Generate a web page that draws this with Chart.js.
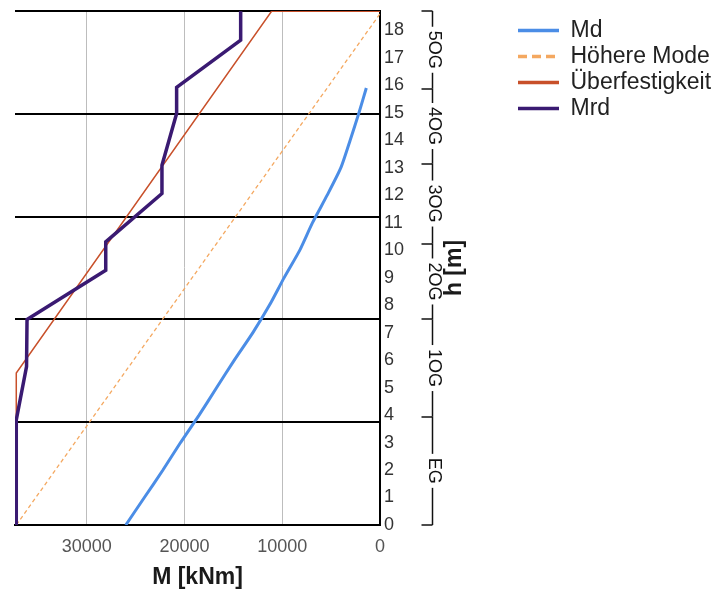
<!DOCTYPE html>
<html><head><meta charset="utf-8">
<script src="https://cdn.jsdelivr.net/npm/chart.js@4/dist/chart.umd.min.js"></script>
<style>html,body{margin:0;padding:0;background:#fff}#wrap{width:715px;height:595px;position:relative}</style>
</head><body><div id="wrap"><canvas id="c"></canvas></div>
<script>
// ---- data ----
const seriesNames = ['Md', 'Höhere Mode', 'Überfestigkeit', 'Mrd'];
const mdHeights   = [0, 1, 2, 3, 4, 5, 6, 7, 8, 9, 10, 11, 12, 13, 14, 15, 15.9];
const mdMoments   = [26000, 24100, 22200, 20400, 18500, 16700, 14900, 13000, 11300, 9800, 8200, 6900, 5400, 4000, 3050, 2150, 1400];
const modeHeights = [0, 18.6];
const modeMoments = [37200, 0];
const overHeights = [0, 5.53, 18.69, 18.69];
const overMoments = [37200, 37200, 11090, 0];
const mrdHeights  = [0, 3.82, 5.76, 7.48, 9.27, 10.3, 12.06, 13.09, 14.97, 15.92, 17.64, 18.69];
const mrdMoments  = [37200, 37200, 36150, 36100, 28050, 28050, 22300, 22300, 20800, 20800, 14250, 14250];
const xTickValues = [0, 10000, 20000, 30000];
const yTickValues = [0, 1, 2, 3, 4, 5, 6, 7, 8, 9, 10, 11, 12, 13, 14, 15, 16, 17, 18];
const storeyLevels = [3.73, 7.49, 11.19, 14.97, 18.7];
const floorBounds = [0, 3.94, 7.48, 10.24, 13.15, 15.88, 18.7];
const floorNames  = ['EG', '1OG', '2OG', '3OG', '4OG', '5OG'];
const xAxisTitle = 'M [kNm]';
const yAxisTitle = 'h [m]';

const pts = (hs, ms) => hs.map((h, i) => ({x: ms[i], y: h}));
const FONT = '"Liberation Sans", Arial, sans-serif';

const decor = {
  id: 'decor',
  afterLayout(chart) {
    const lg = chart.legend;
    if (lg) {
      lg.left = 515; lg.right = chart.width; lg.width = lg.right - lg.left;
      lg.top = 16; lg.bottom = chart.height; lg.height = lg.bottom - lg.top;
    }
  },
  beforeDatasetsDraw(chart) {
    const {ctx, chartArea: a, scales: {y}} = chart;
    ctx.save();
    ctx.strokeStyle = '#000'; ctx.lineWidth = 2;
    storeyLevels.forEach(v => {
      const py = Math.round(y.getPixelForValue(v));
      ctx.beginPath(); ctx.moveTo(a.left, py); ctx.lineTo(a.right, py); ctx.stroke();
    });
    ctx.restore();
  },
  afterDraw(chart) {
    const {ctx, chartArea: a, scales: {y}} = chart;
    const ax = Math.round(a.right + 52) + 0.5, tickL = 11;
    const seg = (x1, y1, x2, y2) => { ctx.beginPath(); ctx.moveTo(x1, y1); ctx.lineTo(x2, y2); ctx.stroke(); };
    ctx.save();
    ctx.font = '18px ' + FONT;
    ctx.strokeStyle = '#111'; ctx.fillStyle = '#111'; ctx.lineWidth = 1.5;
    floorBounds.forEach(v => { const py = Math.round(y.getPixelForValue(v)); seg(ax - tickL, py, ax, py); });
    for (let i = 0; i < floorNames.length; i++) {
      const y0 = y.getPixelForValue(floorBounds[i]), y1 = y.getPixelForValue(floorBounds[i + 1]);
      const mid = (y0 + y1) / 2;
      const half = ctx.measureText(floorNames[i]).width / 2 + 4;
      seg(ax, y0, ax, mid + half); seg(ax, mid - half, ax, y1);
      ctx.save(); ctx.translate(ax + 1, mid); ctx.rotate(Math.PI / 2);
      ctx.textAlign = 'center'; ctx.textBaseline = 'middle';
      ctx.fillText(floorNames[i], 0, 0); ctx.restore();
    }
    ctx.font = 'bold 23px ' + FONT; ctx.fillStyle = '#1a1a1a';
    ctx.translate(a.right + 75, (a.top + a.bottom) / 2); ctx.rotate(-Math.PI / 2);
    ctx.textAlign = 'center'; ctx.textBaseline = 'middle';
    ctx.fillText(yAxisTitle, 0, 0);
    ctx.restore();
  }
};

const colors = ['#4B8DE6', '#F4A860', '#C8502A', '#3A1A72'];
new Chart(document.getElementById('c'), {
  type: 'line',
  data: {
    datasets: [
      {label: seriesNames[0], data: pts(mdHeights, mdMoments), borderColor: colors[0], borderWidth: 3, tension: 0.2, order: 1},
      {label: seriesNames[1], data: pts(modeHeights, modeMoments), borderColor: colors[1], borderWidth: 1.3, borderDash: [4, 3], order: 3},
      {label: seriesNames[2], data: pts(overHeights, overMoments), borderColor: colors[2], borderWidth: 1.5, order: 2},
      {label: seriesNames[3], data: pts(mrdHeights, mrdMoments), borderColor: colors[3], borderWidth: 3.5, order: 0}
    ]
  },
  options: {
    responsive: true, maintainAspectRatio: false, animation: false, devicePixelRatio: 1,
    elements: {point: {radius: 0, hoverRadius: 0}, line: {fill: false}},
    layout: {padding: {left: 15, top: 11, right: 0, bottom: 0}},
    scales: {
      x: {
        type: 'linear', reverse: true, min: 0, max: 37330,
        afterBuildTicks: s => { s.ticks = xTickValues.map(v => ({value: v})); },
        afterFit: s => { s.height = 70; },
        grid: {color: c => (c.tick && c.tick.value === 0) ? 'rgba(0,0,0,0)' : '#bdbdbd', lineWidth: 1, drawTicks: false},
        border: {color: '#000', width: 2},
        ticks: {font: {size: 18, family: FONT}, color: '#555', padding: 11, callback: v => String(v), maxRotation: 0},
        title: {display: true, text: xAxisTitle, font: {size: 23, weight: 'bold', family: FONT}, color: '#1a1a1a', padding: {top: 0, bottom: 4}}
      },
      y: {
        type: 'linear', position: 'right', min: 0, max: 18.7,
        afterBuildTicks: s => { s.ticks = yTickValues.map(v => ({value: v})); },
        afterFit: s => {
          const lg = s.chart.legend;
          s.width = s.chart.width - (lg ? lg.width : 0) - 380;
          s.paddingTop = 0; s.paddingBottom = 0;
        },
        grid: {display: false, drawTicks: false},
        border: {color: '#000', width: 2},
        ticks: {font: {size: 18, family: FONT}, color: '#333', padding: 4, callback: v => String(v)}
      }
    },
    plugins: {
      tooltip: {enabled: false},
      legend: {
        position: 'right', align: 'start',
        labels: {
          font: {size: 23, family: FONT}, color: '#222', padding: 3,
          usePointStyle: true, pointStyle: 'line', pointStyleWidth: 41,
          sort: (a, b) => a.datasetIndex - b.datasetIndex,
          generateLabels: chart => {
            const items = Chart.defaults.plugins.legend.labels.generateLabels(chart);
            items.forEach(it => {
              it.lineWidth = 3.5;
              it.lineDash = it.datasetIndex === 1 ? [9, 5] : [];
              it.strokeStyle = colors[it.datasetIndex];
            });
            return items;
          }
        }
      }
    }
  },
  plugins: [decor]
});
</script>
</body></html>
